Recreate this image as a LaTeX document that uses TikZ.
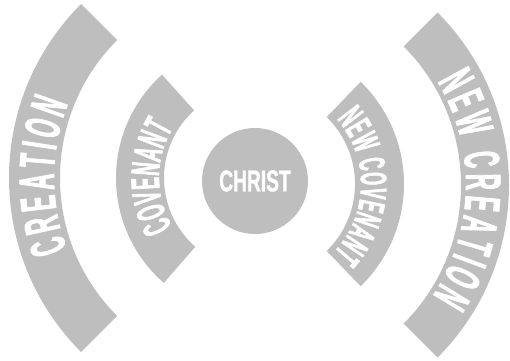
\documentclass[tikz,border=0pt]{standalone}
\usepackage{fontspec}
\usetikzlibrary{decorations.text}
\newfontfamily\arcfont[FakeStretch=0.45,FakeBold=1.5]{Liberation Sans Bold}
\newfontfamily\hubfont[FakeStretch=0.64,FakeBold=1]{Liberation Sans Bold}
\definecolor{bandgray}{RGB}{190,190,190}
\tikzset{band/.style={fill=bandgray},
  arctext/.style 2 args={decorate, decoration={text along path, text align={fit to path}, text color=white,
    text={|\arcfont\fontsize{#1}{#1}\selectfont|#2}}}}

\begin{document}
\begin{tikzpicture}[x=1pt,y=1pt]
\useasboundingbox (0,0) rectangle (510,360);
\coordinate (lc) at (255,182);
\coordinate (ric) at (262,176);
\coordinate (roc) at (265,175);
% bands
\fill[band] (lc) ++(135:246) arc[start angle=135,end angle=225,radius=246] -- ++(45:51) arc[start angle=225,end angle=135,radius=195] -- cycle;
\fill[band] (lc) ++(132:139) arc[start angle=132,end angle=229,radius=139] -- ++(49:48) arc[start angle=229,end angle=132,radius=91] -- cycle;
\fill[band] (ric) ++(46:142) arc[start angle=46,end angle=-46,radius=142] -- ++(134:49) arc[start angle=-46,end angle=46,radius=93] -- cycle;
\fill[band] (roc) ++(45:244) arc[start angle=45,end angle=-45,radius=244] -- ++(135:48) arc[start angle=-45,end angle=45,radius=196] -- cycle;
\node[circle, band, minimum size=106pt, inner sep=0pt, text=white,
      font=\hubfont\fontsize{30}{30}\selectfont] (christ) at (255,179) {CHRIST};
% labels along the bands
\path[arctext={50}{CREATION}] (lc) ++(200.7:201) arc[start angle=200.7,end angle=158.3,radius=201];
\path[arctext={40}{COVENANT}] (lc) ++(210.5:96) arc[start angle=210.5,end angle=148.5,radius=96];
\path[arctext={37}{NEW COVENANT}] (ric) ++(41:99) arc[start angle=41,end angle=-43.5,radius=99];
\path[arctext={50}{NEW CREATION}] (roc) ++(31:201) arc[start angle=31,end angle=-33.5,radius=201];
\end{tikzpicture}
\end{document}
